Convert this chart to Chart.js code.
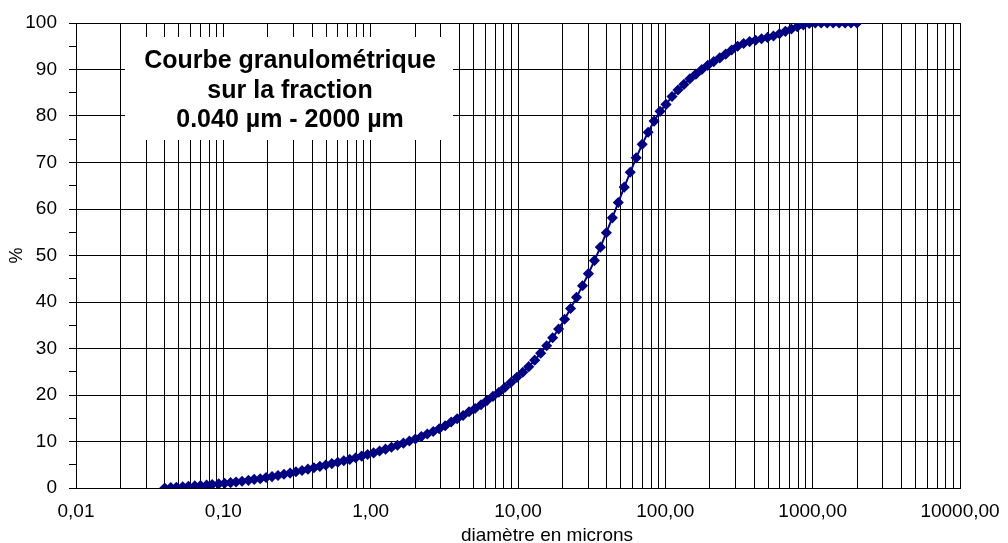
<!DOCTYPE html>
<html lang="fr">
<head>
<meta charset="UTF-8">
<title>Courbe granulométrique</title>
<script src="https://cdn.jsdelivr.net/npm/chart.js"></script>
<style>
  body { margin: 0; background: #fff; }
  #wrap { width: 1008px; height: 543px; }
</style>
</head>
<body>
<div id="wrap"><canvas id="myChart"></canvas></div>
<script>
// diamètres des classes (µm)
const diametres = [
  0.040, 0.044, 0.048, 0.053, 0.058, 0.064, 0.070, 0.077, 0.084, 0.093,
  0.102, 0.112, 0.122, 0.134, 0.148, 0.162, 0.178, 0.195, 0.214, 0.235,
  0.258, 0.284, 0.311, 0.342, 0.375, 0.412, 0.452, 0.496, 0.545, 0.598,
  0.657, 0.721, 0.791, 0.869, 0.953, 1.047, 1.149, 1.261, 1.385, 1.520,
  1.669, 1.832, 2.010, 2.207, 2.423, 2.660, 2.920, 3.205, 3.519, 3.863,
  4.240, 4.655, 5.110, 5.610, 6.158, 6.760, 7.421, 8.147, 8.943, 9.818,
  10.78, 11.83, 12.99, 14.26, 15.65, 17.18, 18.86, 20.71, 22.73, 24.95,
  27.39, 30.07, 33.01, 36.24, 39.78, 43.67, 47.94, 52.62, 57.77, 63.41,
  69.61, 76.42, 83.89, 92.09, 101.1, 111.0, 121.8, 133.7, 146.8, 161.2,
  176.9, 194.2, 213.2, 234.1, 256.9, 282.1, 309.6, 339.9, 373.1, 409.6,
  449.7, 493.6, 541.9, 594.9, 653.0, 716.8, 786.9, 863.9, 948.3, 1041,
  1143, 1255, 1377, 1512, 1660, 1822, 2000
];

// pourcentages cumulés (%)
const cumul = [
  0.0, 0.1, 0.15, 0.25, 0.35, 0.45, 0.55, 0.65, 0.75, 0.9,
  1.0, 1.15, 1.3, 1.45, 1.65, 1.85, 2.0, 2.25, 2.45, 2.7,
  2.95, 3.2, 3.5, 3.75, 4.05, 4.35, 4.65, 4.95, 5.25, 5.55,
  5.85, 6.15, 6.5, 6.85, 7.2, 7.55, 7.95, 8.35, 8.75, 9.2,
  9.65, 10.1, 10.55, 11.05, 11.6, 12.15, 12.75, 13.4, 14.2, 14.9,
  15.6, 16.4, 17.1, 17.9, 18.8, 19.7, 20.6, 21.6, 22.7, 23.8,
  24.9, 26.1, 27.5, 29.0, 30.6, 32.3, 34.2, 36.3, 38.6, 41.0,
  43.5, 46.1, 48.9, 51.8, 54.9, 58.1, 61.4, 64.7, 67.9, 71.0,
  73.9, 76.5, 78.9, 81.0, 82.5, 84.2, 85.6, 86.8, 88.0, 89.0,
  90.0, 90.9, 91.7, 92.5, 93.3, 94.2, 95.0, 95.6, 96.0, 96.3,
  96.6, 96.9, 97.2, 97.7, 98.2, 98.7, 99.2, 99.6, 99.9, 100,
  100, 100, 100, 100, 100, 100, 100
];

const graduationsX = [0.01, 0.1, 1, 10, 100, 1000, 10000];
const etiquettesX = ['0,01', '0,10', '1,00', '10,00', '100,00', '1000,00', '10000,00'];
const titreLignes = ['Courbe granulométrique', 'sur la fraction', '0.040 µm - 2000 µm'];
const titreAxeX = 'diamètre en microns';
const titreAxeY = '%';

// lignes verticales 1..9 de chaque décade
const lignesX = [];
graduationsX.forEach((g, i) => {
  if (i === graduationsX.length - 1) { lignesX.push(g); return; }
  for (let k = 1; k <= 9; k++) lignesX.push(+(g * k).toPrecision(3));
});

const police = "'Liberation Sans', Arial, sans-serif";
Chart.defaults.font.family = police;
Chart.defaults.color = '#000';

// cadre blanc du titre + titre de l'axe x
const cadreTitre = {
  id: 'cadreTitre',
  beforeDatasetsDraw(chart) {
    const ctx = chart.ctx, a = chart.chartArea;
    ctx.save();
    ctx.fillStyle = '#fff';
    ctx.fillRect(a.left + 49, a.top + 14, 328, 103);
    ctx.fillStyle = '#000';
    ctx.font = 'bold 25px ' + police;
    ctx.textAlign = 'center';
    ctx.textBaseline = 'alphabetic';
    titreLignes.forEach((t, i) => ctx.fillText(t, a.left + 214, a.top + 45 + i * 29.5));
    ctx.restore();
  },
  afterDraw(chart) {
    const ctx = chart.ctx, a = chart.chartArea;
    ctx.save();
    ctx.fillStyle = '#000';
    ctx.font = '19px ' + police;
    ctx.textAlign = 'center';
    ctx.textBaseline = 'alphabetic';
    ctx.fillText(titreAxeX, (a.left + a.right) / 2 + 29, a.bottom + 53);
    ctx.restore();
  }
};

const ctx = document.getElementById('myChart').getContext('2d');
const myChart = new Chart(ctx, {
  type: 'line',
  data: {
    datasets: [{
      data: diametres.map((d, i) => ({ x: d, y: cumul[i] })),
      borderColor: '#000080',
      backgroundColor: '#000080',
      borderWidth: 2,
      pointStyle: 'rectRot',
      pointRadius: 4.5,
      pointBorderWidth: 1.5,
      tension: 0
    }]
  },
  options: {
    responsive: true,
    maintainAspectRatio: false,
    animation: false,
    layout: { padding: { top: 23, right: 48, left: 0, bottom: 0 } },
    plugins: { legend: { display: false }, tooltip: { enabled: false } },
    scales: {
      x: {
        type: 'logarithmic',
        min: 0.01,
        max: 10000,
        afterBuildTicks: s => { s.ticks = lignesX.map(v => ({ value: v })); },
        afterFit: s => { s.height = 55; s.paddingLeft = 0; s.paddingRight = 0; },
        ticks: {
          autoSkip: false, maxRotation: 0, minRotation: 0, padding: 12,
          font: { size: 19 }, color: '#000',
          callback: v => {
            const i = graduationsX.indexOf(v);
            return i >= 0 ? etiquettesX[i] : '';
          }
        },
        grid: { color: '#000', lineWidth: 1, drawTicks: false },
        border: { color: '#000', width: 1 }
      },
      y: {
        min: 0,
        max: 100,
        afterFit: s => { s.width = 76; s.paddingTop = 0; s.paddingBottom = 0; },
        ticks: {
          stepSize: 5, autoSkip: false, padding: 12,
          font: { size: 19 }, color: '#000',
          callback: v => (v % 10 === 0 ? v : '')
        },
        grid: {
          color: c => (c.tick && c.tick.value % 10 === 0 ? '#000' : 'rgba(0,0,0,0)'),
          tickColor: '#000',
          tickLength: 7,
          lineWidth: 1
        },
        border: { color: '#000', width: 1 },
        title: { display: true, text: titreAxeY, font: { size: 18 }, color: '#000', padding: { top: 6, bottom: 0 } }
      }
    }
  },
  plugins: [cadreTitre]
});
</script>
</body>
</html>
